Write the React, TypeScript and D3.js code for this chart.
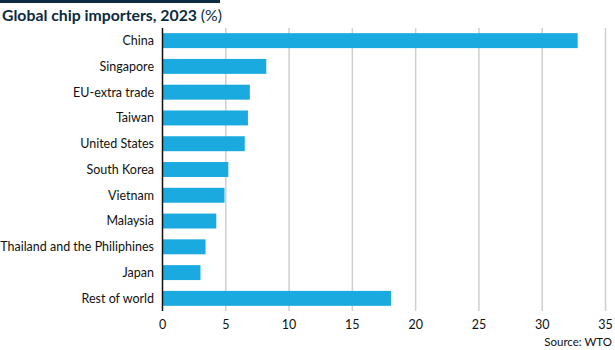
import React from "react";
import * as d3 from "d3";

const categories = [
  "China",
  "Singapore",
  "EU-extra trade",
  "Taiwan",
  "United States",
  "South Korea",
  "Vietnam",
  "Malaysia",
  "Thailand and the Philiphines",
  "Japan",
  "Rest of world",
];
const values = [32.8, 8.2, 6.9, 6.75, 6.5, 5.2, 4.9, 4.25, 3.4, 3.0, 18.05];
const xTicks = [0, 5, 10, 15, 20, 25, 30, 35];

const W = 615;
const H = 350;
const left = 162.5;
const right = 605.5;
const top = 28;
const bottom = 311;

export default function App() {
  const x = d3.scaleLinear().domain([0, 35]).range([left, right]);
  const y = d3
    .scaleBand()
    .domain(categories)
    .range([top, bottom])
    .paddingInner(0.42)
    .paddingOuter(0.2);
  const font = "Lato, 'Noto Sans', sans-serif";
  return (
    <svg
      width={W}
      height={H}
      style={{ position: "absolute", left: 0, top: 0, display: "block" }}
      fontFamily={font}
    >
      <rect x={0} y={0} width={220} height={3} fill="#0d2b3e" />
      <text x={2} y={21} fontSize={15.8} fill="#0d2b3e" fontWeight={700}>
        Global chip importers, 2023{" "}
        <tspan fontWeight={400}>(%)</tspan>
      </text>
      {xTicks.slice(1).map((t) => (
        <line
          key={t}
          x1={x(t)}
          x2={x(t)}
          y1={top}
          y2={bottom}
          stroke="#cfcfcf"
          strokeWidth={1.5}
        />
      ))}
      {categories.map((c, i) => (
        <g key={c}>
          <rect
            x={x(0)}
            y={y(c)}
            width={x(values[i]) - x(0)}
            height={y.bandwidth()}
            fill="#1aaae0"
          />
          <text
            x={154}
            y={(y(c) as number) + y.bandwidth() / 2}
            dy="0.35em"
            textAnchor="end"
            fontSize={12.5}
            fill="#111"
          >
            {c}
          </text>
        </g>
      ))}
      <line x1={left} x2={left} y1={top} y2={bottom} stroke="#111" strokeWidth={1.5} />
      {xTicks.map((t) => (
        <text
          key={t}
          x={x(t)}
          y={329}
          textAnchor="middle"
          fontSize={12.5}
          fill="#111"
        >
          {t}
        </text>
      ))}
      <text x={612} y={346} textAnchor="end" fontSize={11.5} fill="#111">
        Source: WTO
      </text>
    </svg>
  );
}
